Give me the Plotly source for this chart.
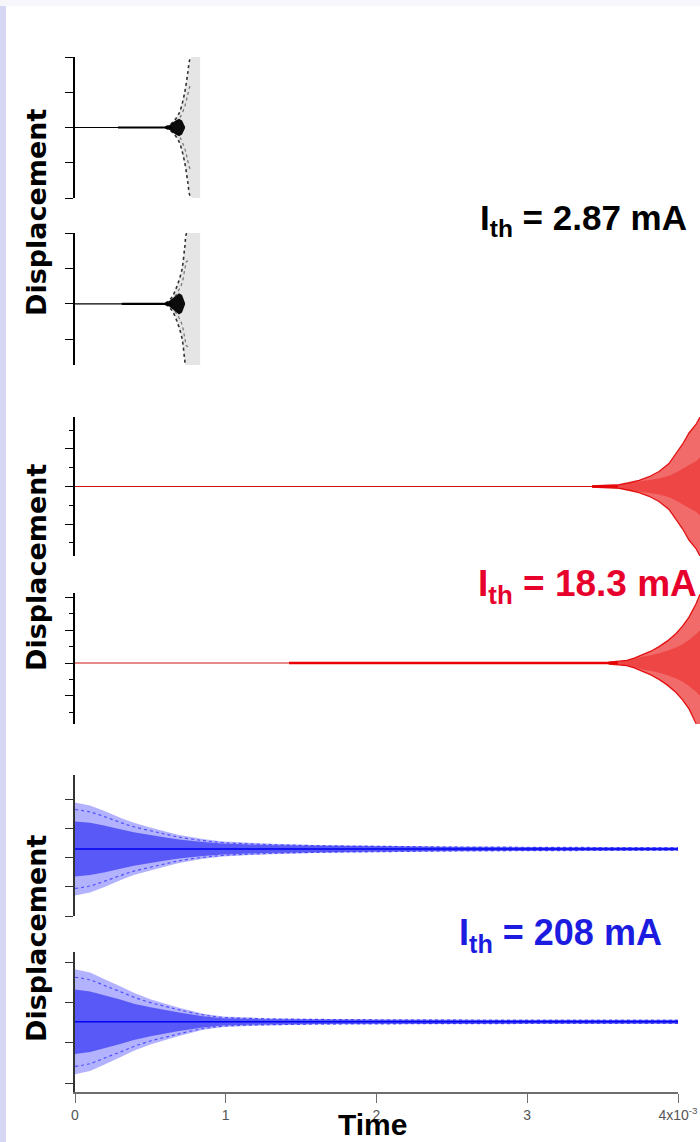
import plotly.graph_objects as go

W, H = 700, 1142

# ---------------- data (time in 1e-3 s, displacement in arbitrary units) ----------------
# Panel 1 : I_th = 2.87 mA (upper)
p1_center = 0.0
p1_line_t = [0.0, 0.64]
p1_thick_t = [0.285, 0.64]
p1_env_t = [0.60, 0.616, 0.642, 0.669, 0.695, 0.728, 0.748, 0.762, 0.775, 0.83]
p1_env_amp = [0.02, 0.04, 0.12, 0.25, 0.45, 1.0, 1.55, 1.93, 2.0, 2.0]
p1_core_t = [0.60, 0.63, 0.66, 0.69, 0.71, 0.73]
p1_core_amp = [0.03, 0.08, 0.18, 0.25, 0.2, 0.02]

# Panel 2 : I_th = 2.87 mA (lower)
p2_center = 0.0
p2_line_t = [0.0, 0.64]
p2_thick_t = [0.31, 0.64]
p2_env_t = [0.60, 0.616, 0.645, 0.675, 0.709, 0.728, 0.742, 0.76, 0.83]
p2_env_amp = [0.03, 0.06, 0.2, 0.48, 0.96, 1.6, 2.0, 2.0, 2.0]
p2_core_t = [0.60, 0.63, 0.66, 0.69, 0.71, 0.73]
p2_core_amp = [0.03, 0.09, 0.2, 0.3, 0.25, 0.02]

# Panel 3 : I_th = 18.3 mA (upper)
p3_center = 0.0
p3_line_t = [0.0, 3.60]
p3_thick_t = [3.43, 3.60]
p3_env_t = [3.43, 3.59, 3.61, 3.675, 3.742, 3.808, 3.874, 3.94, 3.987, 4.03, 4.073, 4.119, 4.146]
p3_env_amp = [0.03, 0.06, 0.1, 0.2, 0.33, 0.52, 0.8, 1.22, 1.75, 2.25, 2.85, 3.3, 3.7]
p3_core_amp = [0.03, 0.06, 0.1, 0.18, 0.26, 0.34, 0.43, 0.57, 0.75, 0.95, 1.15, 1.35, 1.55]

# Panel 4 : I_th = 18.3 mA (lower)
p4_center = 0.0
p4_line_t = [0.0, 3.60]
p4_thick_t = [1.42, 3.60]
p4_env_t = [3.54, 3.60, 3.66, 3.71, 3.76, 3.82, 3.874, 3.93, 3.987, 4.03, 4.073, 4.119, 4.146]
p4_env_amp = [0.06, 0.09, 0.16, 0.3, 0.5, 0.72, 1.0, 1.35, 1.8, 2.25, 2.8, 3.6, 4.2]
p4_core_amp = [0.06, 0.09, 0.15, 0.26, 0.38, 0.48, 0.6, 0.75, 0.95, 1.15, 1.4, 1.75, 2.0]

# Panel 5 : I_th = 208 mA (upper)
p5_center = 0.31
p5_env_t = [0.0, 0.1, 0.2, 0.3, 0.39, 0.5, 0.6, 0.69, 0.85, 0.98, 1.25, 1.58, 2.0, 2.46, 3.0, 3.5, 4.0]
p5_env_amp = [1.6, 1.5, 1.3, 1.08, 0.9, 0.74, 0.6, 0.48, 0.34, 0.26, 0.19, 0.14, 0.11, 0.085, 0.07, 0.06, 0.055]
p5_core_amp = [0.95, 0.9, 0.8, 0.68, 0.58, 0.48, 0.4, 0.33, 0.24, 0.19, 0.14, 0.11, 0.09, 0.07, 0.06, 0.05, 0.05]

# Panel 6 : I_th = 208 mA (lower)
p6_center = 0.52
p6_env_t = [0.0, 0.1, 0.2, 0.3, 0.39, 0.5, 0.6, 0.69, 0.85, 0.98, 1.25, 1.6, 2.0, 3.0, 4.0]
p6_env_amp = [1.3, 1.22, 1.05, 0.88, 0.72, 0.56, 0.45, 0.35, 0.2, 0.13, 0.09, 0.07, 0.06, 0.05, 0.05]
p6_core_amp = [0.8, 0.75, 0.65, 0.55, 0.45, 0.36, 0.29, 0.23, 0.14, 0.09, 0.065, 0.055, 0.05, 0.045, 0.045]

x_tickvals = [0, 1, 2, 3, 4]
x_ticktext = ["0", "1", "2", "3", "4x10<sup>-3</sup>"]
labels = ["I<sub>th</sub> = 2.87 mA", "I<sub>th</sub> = 18.3 mA", "I<sub>th</sub> = 208 mA"]

# ---------------- helpers ----------------
def band_xy(t, amp, c):
    xs = list(t) + list(t)[::-1]
    ys = [c + a for a in amp] + [c - a for a in amp][::-1]
    return xs, ys

fig = go.Figure()

def add_band(t, amp, c, color, xa, ya):
    xs, ys = band_xy(t, amp, c)
    fig.add_trace(go.Scatter(x=xs, y=ys, fill="toself", fillcolor=color, mode="none",
                             hoverinfo="skip", showlegend=False, xaxis=xa, yaxis=ya))

def add_line(t, c, color, width, xa, ya):
    fig.add_trace(go.Scatter(x=t, y=[c] * len(t), mode="lines", line=dict(color=color, width=width),
                             hoverinfo="skip", showlegend=False, xaxis=xa, yaxis=ya))

def add_edges(t, amp, c, color, width, xa, ya, dash="solid", frac=1.0, shape="linear"):
    for s in (1, -1):
        fig.add_trace(go.Scatter(x=t, y=[c + s * a * frac for a in amp], mode="lines",
                                 line=dict(color=color, width=width, shape=shape, dash=dash),
                                 hoverinfo="skip", showlegend=False, xaxis=xa, yaxis=ya))

# black panels
for (lt, tt, et, ea, ct, ca, c, ya) in [
    (p1_line_t, p1_thick_t, p1_env_t, p1_env_amp, p1_core_t, p1_core_amp, p1_center, "y"),
    (p2_line_t, p2_thick_t, p2_env_t, p2_env_amp, p2_core_t, p2_core_amp, p2_center, "y2"),
]:
    add_line(lt, c, "black", 1.2, "x", ya)
    add_line(tt, c, "black", 2.2, "x", ya)
    add_band(et, ea, c, "rgba(0,0,0,0.10)", "x", ya)
    add_edges(et[:-1], ea[:-1], c, "rgba(0,0,0,0.8)", 1.6, "x", ya, dash="dot", shape="spline")
    add_edges(et[:-1], ea[:-1], c, "rgba(0,0,0,0.5)", 1.2, "x", ya, dash="dot", frac=0.6, shape="spline")
    add_band(ct, ca, c, "rgba(0,0,0,0.95)", "x", ya)

# red panels
for (lt, tt, et, ea, ca, c, ya) in [
    (p3_line_t, p3_thick_t, p3_env_t, p3_env_amp, p3_core_amp, p3_center, "y3"),
    (p4_line_t, p4_thick_t, p4_env_t, p4_env_amp, p4_core_amp, p4_center, "y4"),
]:
    add_line(lt, c, "#d21414", 1.2, "x2", ya)
    add_line(tt, c, "#e80000", 2.4, "x2", ya)
    add_band(et, ea, c, "rgba(232,0,0,0.58)", "x2", ya)
    add_band(et, ca, c, "rgba(232,0,0,0.35)", "x2", ya)
    add_edges(et, ea, c, "rgba(225,0,0,0.9)", 1.3, "x2", ya)

# blue panels
for (et, ea, ca, c, ya) in [
    (p5_env_t, p5_env_amp, p5_core_amp, p5_center, "y5"),
    (p6_env_t, p6_env_amp, p6_core_amp, p6_center, "y6"),
]:
    add_band(et, ea, c, "rgba(0,0,255,0.30)", "x", ya)
    add_band(et, ca, c, "rgba(0,0,240,0.50)", "x", ya)
    add_edges(et, ea, c, "rgba(0,0,255,0.55)", 1.2, "x", ya, dash="dot", frac=0.85, shape="spline")
    add_line([et[0], et[-1]], c, "#0000f0", 1.6, "x", ya)

# ---------------- layout ----------------
def dom(top_px, bot_px):
    return [1 - bot_px / H, 1 - top_px / H]

def yax(top, bot, rng, dtick, color="black", minor=None, anchor="x"):
    d = dict(domain=dom(top, bot), range=rng, dtick=dtick, tick0=0, showticklabels=False,
             ticks="outside", ticklen=8, tickwidth=1.2, tickcolor=color, showline=True,
             linecolor=color, linewidth=1.5, showgrid=False, zeroline=False, anchor=anchor,
             fixedrange=True, automargin=False)
    if minor:
        d["minor"] = minor
    return d

X0, X1 = 75, 678
red_max = 4 * (700 - X0) / (X1 - X0)

red_minor = dict(dtick=1, tick0=0, ticks="outside", ticklen=4, tickcolor="black", tickwidth=1.2, showgrid=False)

fig.update_layout(
    width=W, height=H, autosize=False, margin=dict(l=0, r=0, t=0, b=0, pad=0, autoexpand=False),
    paper_bgcolor="white", plot_bgcolor="white",
    xaxis=dict(domain=[X0 / W, X1 / W], range=[0, 4], anchor="y6", showline=True,
               linecolor="#6e6e6e", linewidth=1.5, ticks="outside", ticklen=9, tickwidth=1.2,
               tickcolor="#6e6e6e", tickvals=x_tickvals, ticktext=x_ticktext,
               tickfont=dict(family="Liberation Sans Narrow, Liberation Sans, Arial", size=14, color="#555555"),
               showgrid=False, zeroline=False, fixedrange=True, automargin=False),
    xaxis2=dict(domain=[X0 / W, 1.0], range=[0, red_max], anchor="y3", visible=False,
                fixedrange=True, automargin=False),
    yaxis=yax(57, 198, [-2, 2], 1),
    yaxis2=yax(233, 365, [-1.73, 2], 1),
    yaxis3=yax(417, 556, [-3.7, 3.7], 2, minor=red_minor, anchor="x2"),
    yaxis4=yax(593, 724, [-3.72, 4.27], 2, minor=red_minor, anchor="x2"),
    yaxis5=yax(775, 916, [-2, 2.86], 1, color="#333333"),
    yaxis6=yax(952, 1092, [-1.22, 2.25], 1, color="#333333"),
    showlegend=False,
)

shapes = [
    dict(type="rect", xref="paper", yref="paper", x0=0, x1=6 / W, y0=0, y1=1,
         fillcolor="#d6d6f5", line=dict(width=0), layer="below"),
    dict(type="rect", xref="paper", yref="paper", x0=0, x1=1, y0=1 - 6 / H, y1=1,
         fillcolor="#f7f7fb", line=dict(width=0), layer="below"),
]
fig.update_layout(shapes=shapes)

ann = []
disp_font = dict(family="DejaVu Sans", size=27, color="black")
for cy in (212, 567, 938):
    ann.append(dict(text="<b>Displacement</b>", x=36 / W, y=1 - cy / H, xref="paper", yref="paper",
                    textangle=-90, showarrow=False, xanchor="center", yanchor="middle", font=disp_font))

lab_specs = [(labels[0], 689, 220, 35, "black"),
             (labels[1], 699, 586, 37, "#e8002d"),
             (labels[2], 664, 935, 36, "#1c1ce0")]
for txt, xr, cy, sz, col in lab_specs:
    ann.append(dict(text="<b>" + txt + "</b>", x=xr / W, y=1 - cy / H, xref="paper", yref="paper",
                    showarrow=False, xanchor="right", yanchor="middle",
                    font=dict(family="Liberation Sans, Arial", size=sz, color=col)))

ann.append(dict(text="<b>Time</b>", x=372 / W, y=1 - 1124 / H, xref="paper", yref="paper",
                showarrow=False, xanchor="center", yanchor="middle",
                font=dict(family="Liberation Sans, Arial", size=30, color="black")))
fig.update_layout(annotations=ann)

post = ("document.documentElement.style.margin='0';document.body.style.margin='0';"
        "document.body.style.overflow='hidden';document.documentElement.style.overflow='hidden';"
        "var gd=document.getElementById('{plot_id}');"
        "Plotly.relayout(gd,{width:700,height:1142});")
fig.write_html("out.html", config={"displayModeBar": False, "responsive": False},
               default_width="700px", default_height="1142px", post_script=post)
